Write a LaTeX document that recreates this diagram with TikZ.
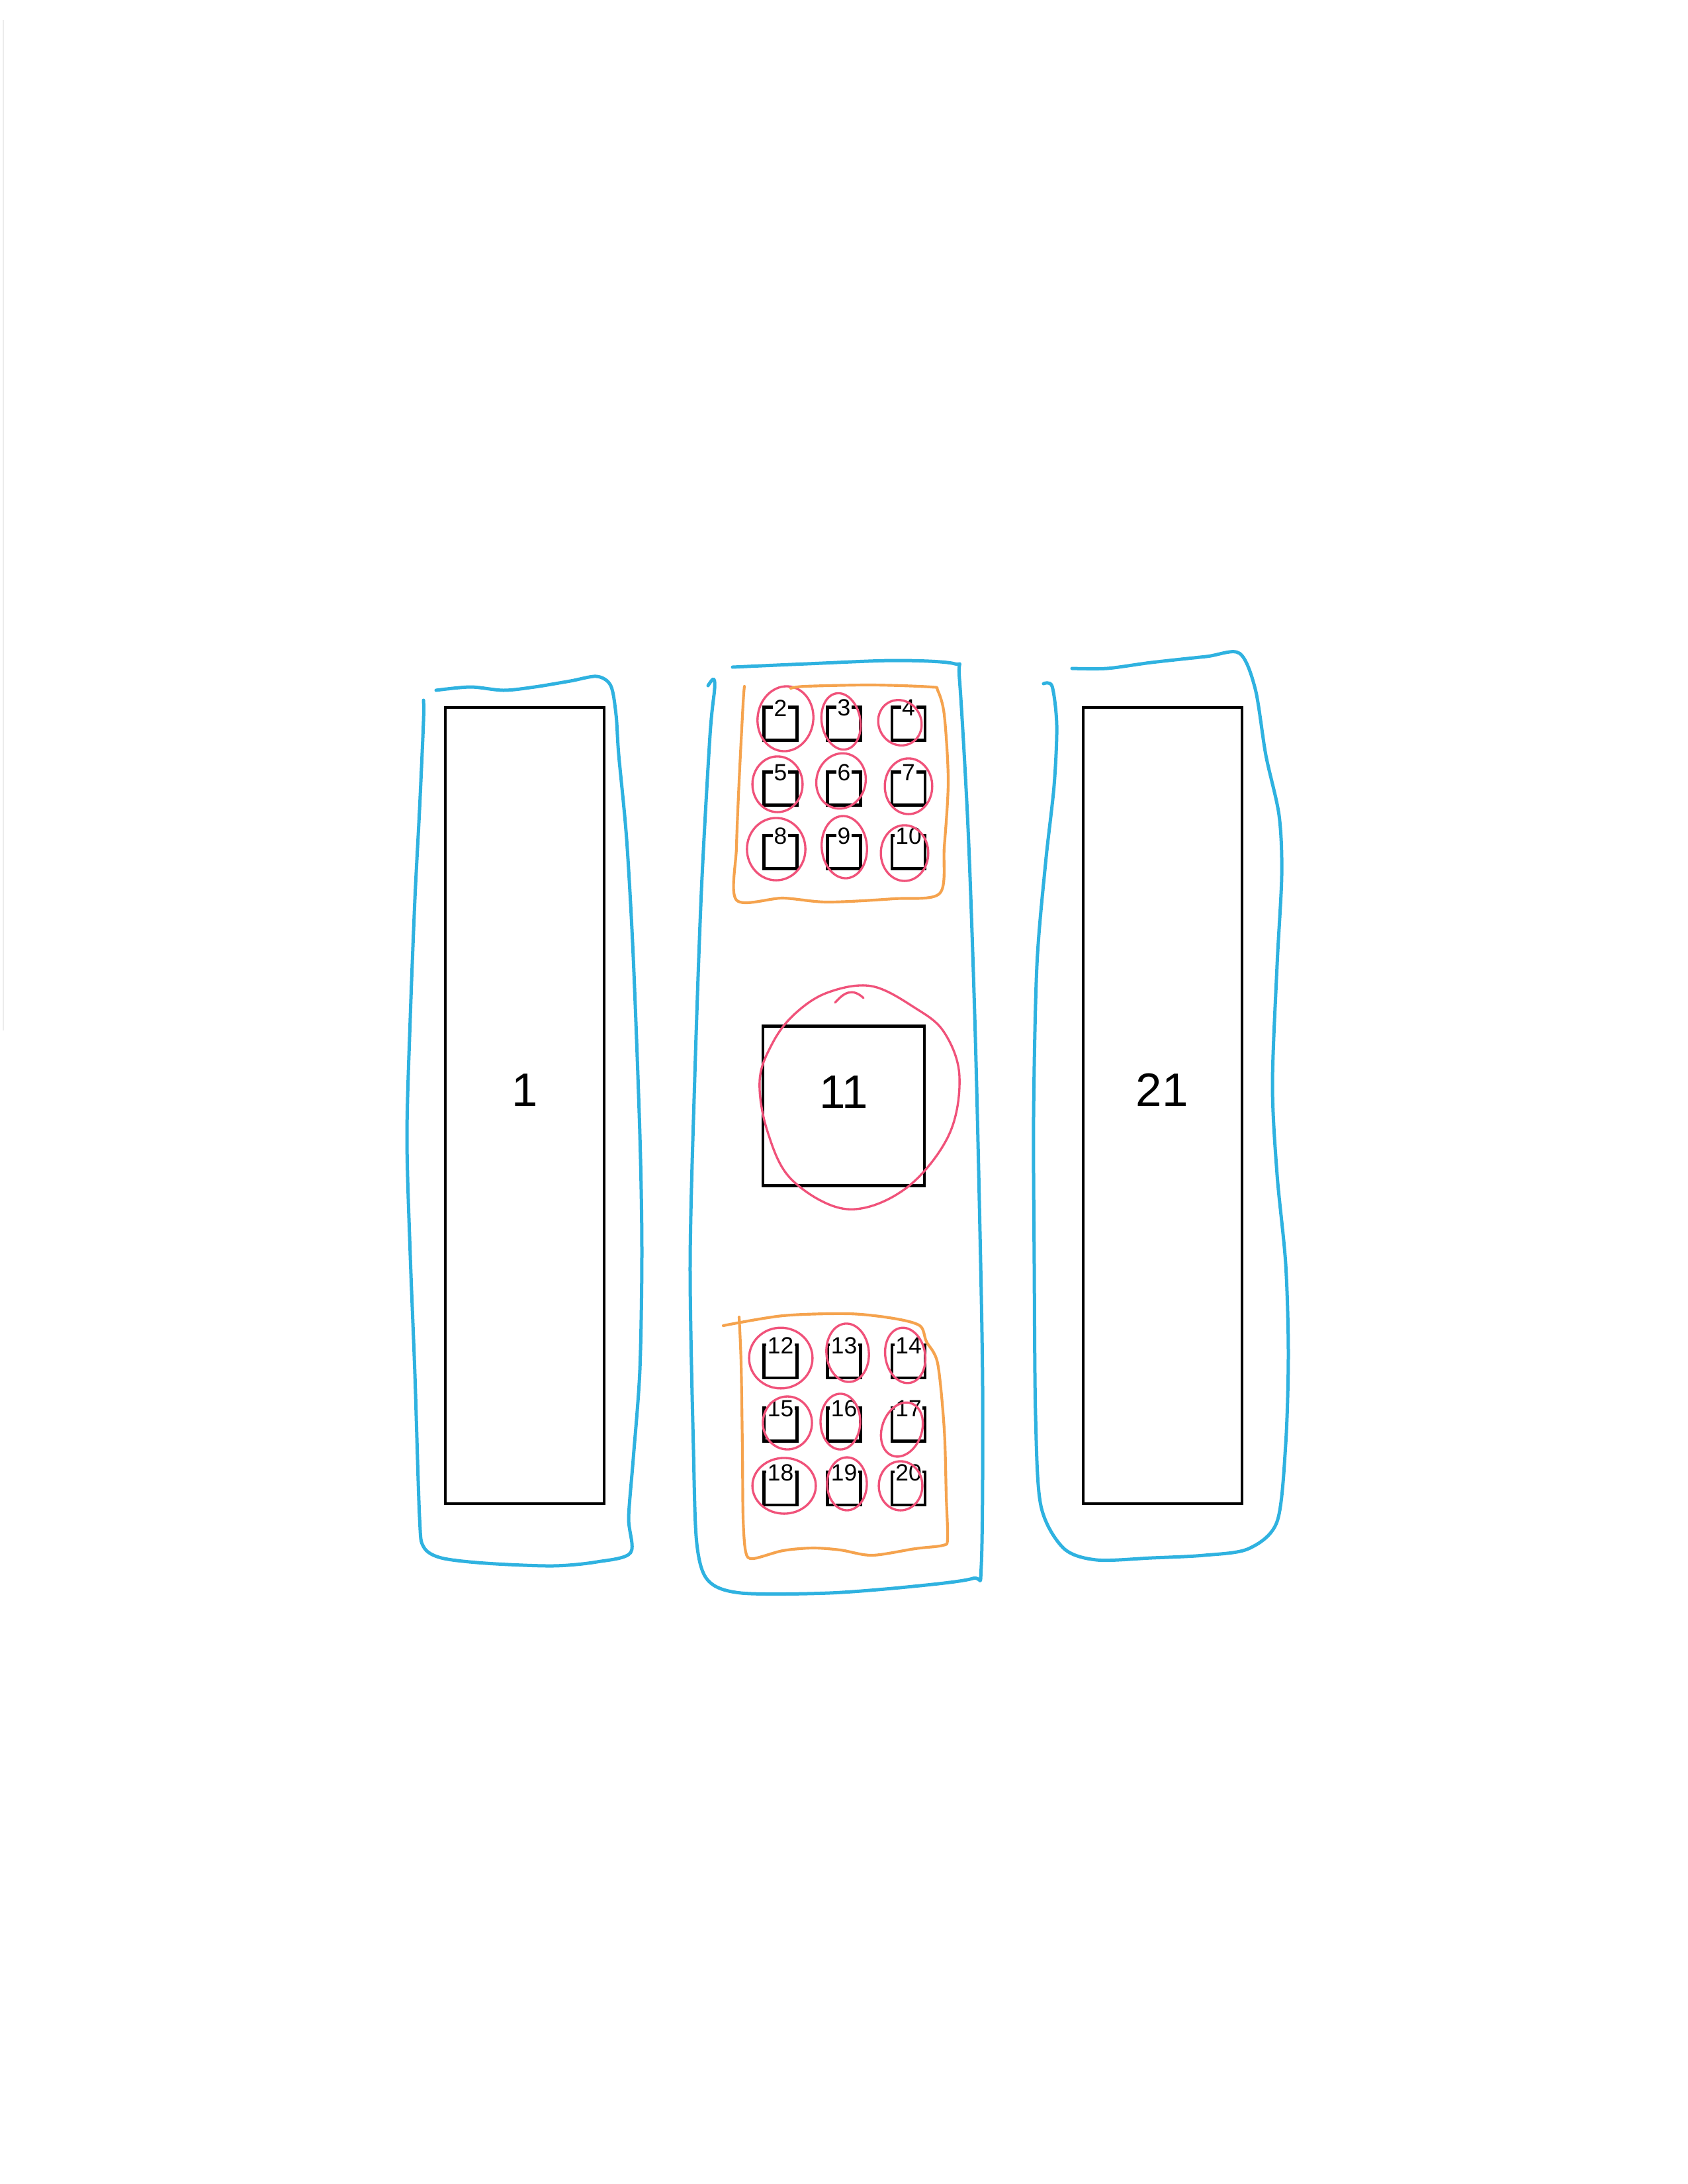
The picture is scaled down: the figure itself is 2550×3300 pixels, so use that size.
\documentclass[tikz,border=0pt]{standalone}
\usepackage{fontspec}
\setmainfont{Liberation Sans}
\definecolor{bluepen}{HTML}{2FB2E0}
\definecolor{orangepen}{HTML}{F5A34E}
\definecolor{redpen}{HTML}{F0527A}
\tikzset{
  bigbox/.style={draw=black, line width=1.1pt, inner sep=0pt},
  smallbox/.style={draw=black, line width=1pt, minimum width=12pt, minimum height=12pt, inner sep=0pt},
  smalllabel/.style={font=\fontsize{8.5}{10}\selectfont, inner sep=0.4pt, fill=white},
  biglabel/.style={font=\fontsize{17}{20}\selectfont, inner sep=1pt, fill=white},
  bluestroke/.style={draw=bluepen, line width=1.2pt, line cap=round, line join=round},
  orangestroke/.style={draw=orangepen, line width=1pt, line cap=round, line join=round},
  redstroke/.style={draw=redpen, line width=0.8pt, line cap=round}
}
\begin{document}
\begin{tikzpicture}[x=0.24pt, y=-0.24pt]
\fill[white] (0,0) rectangle (2550,3300);
\useasboundingbox (0,0) rectangle (2550,3300);
% faint scan edge
\draw[gray!15, line width=0.6pt] (5,30) -- (5,1557);

% big boxes
\node[bigbox, minimum width=57.6pt, minimum height=288.7pt] (b1) at (793,1670.5) {};
\node[bigbox, minimum width=57.6pt, minimum height=288.7pt] (b21) at (1757,1670.5) {};
\node[bigbox, minimum width=58.5pt, minimum height=57.8pt] (b11) at (1275,1671) {};
\node[biglabel] (l1) at (793,1647) {1};
\node[biglabel] (l21) at (1756,1647) {21};
\node[biglabel] (l11) at (1275,1650) {11};

% small boxes with labels
\foreach \n/\x/\y in {2/1179.5/1093.5, 3/1275.5/1093.5, 4/1373/1093.5,
                      5/1179.5/1191.5, 6/1275.5/1191.5, 7/1373/1191.5,
                      8/1179.5/1287.5, 9/1275.5/1287.5, 10/1373/1287.5,
                      12/1179.5/2057, 13/1275.5/2057, 14/1373/2057,
                      15/1179.5/2152.5, 16/1275.5/2152.5, 17/1373/2152.5,
                      18/1179.5/2249, 19/1275.5/2249, 20/1373/2249}{
  \node[smallbox] (b\n) at (\x,\y) {};
  \node[smalllabel] (l\n) at ([yshift=-0.8pt]b\n.north) {\n};
}

% red circles round the small boxes
\foreach \cx/\cy/\rx/\ry/\r in {1187/1086/10.1/11.8/-8, 1271/1090/7.0/10.3/10, 1360/1092/7.7/8.4/30,
                                1175/1185/9.1/10.1/0, 1271/1180/8.9/10.1/-15, 1373/1188/8.6/10.1/0,
                                1173/1283/10.6/11.3/0, 1276/1280/8.2/11.3/5, 1367/1289/8.6/10.1/0,
                                1180/2052/11.5/11.0/0, 1281/2044/7.7/10.6/5, 1368/2048/7.2/10.1/10,
                                1190/2150/8.9/9.6/0, 1270/2148/7.2/10.1/0, 1363/2160/7.2/10.1/-20,
                                1185/2245/11.5/10.1/0, 1280/2242/7.2/9.6/0, 1361/2245/7.9/8.9/0}{
  \draw[redstroke, rotate around={\r:(\cx,\cy)}] (\cx,\cy) ellipse [x radius=\rx pt, y radius=\ry pt];
}

% big red circle round 11
\draw[redstroke] plot[smooth cycle, tension=0.6] coordinates {
  (1317,1490) (1383,1523) (1427,1560) (1450,1627) (1433,1717) (1367,1797)
  (1280,1827) (1197,1783) (1160,1710) (1148,1633) (1167,1577) (1200,1533) (1250,1500)};
\draw[redstroke] (1262,1515) .. controls (1275,1500) and (1288,1492) .. (1305,1508);

% orange outlines
\draw[orangestroke] plot[smooth, tension=0.5] coordinates {
  (1125,1037) (1123,1063) (1117,1180) (1113,1280) (1113,1360) (1183,1357) (1250,1363)
  (1350,1358) (1420,1350) (1427,1280) (1433,1180) (1427,1080) (1417,1043) (1407,1038)
  (1317,1035) (1217,1037) (1195,1040)};
\draw[orangestroke] plot[smooth, tension=0.5] coordinates {
  (1117,1990) (1120,2060) (1122,2193) (1123,2293) (1127,2345) (1138,2355) (1183,2343)
  (1228,2339) (1270,2342) (1318,2350) (1383,2340) (1425,2335) (1432,2325) (1430,2260)
  (1427,2160) (1417,2060) (1400,2027) (1390,2003) (1350,1992) (1283,1985) (1183,1988) (1093,2003)};

% blue outlines
\draw[bluestroke] plot[smooth, tension=0.5] coordinates {
  (659,1043) (711,1038) (761,1043) (808,1038) (862,1029) (902,1022) (923,1036) (931,1080)
  (935,1140) (947,1268) (957,1446) (967,1714) (970,1892) (967,2070) (957,2204) (950,2293)
  (953,2346) (902,2360) (835,2366) (734,2362) (667,2354) (640,2337) (634,2292) (627,2076)
  (620,1897) (615,1718) (620,1538) (627,1359) (634,1224) (640,1090) (640,1058)};
\draw[bluestroke] plot[smooth, tension=0.5] coordinates {
  (1070,1036) (1078,1026) (1080,1040) (1073,1111) (1060,1346) (1050,1627) (1043,1909)
  (1048,2191) (1053,2332) (1070,2388) (1120,2407) (1253,2407) (1380,2397) (1470,2385)
  (1483,2365) (1485,2097) (1480,1815) (1473,1533) (1463,1252) (1450,1026) (1443,1003) (1353,998)
  (1220,1003) (1107,1008)};
\draw[bluestroke] plot[smooth, tension=0.5] coordinates {
  (1577,1033) (1590,1037) (1597,1096) (1593,1187) (1580,1305) (1567,1459) (1562,1686)
  (1563,1912) (1565,2139) (1573,2275) (1607,2339) (1657,2357) (1740,2354) (1820,2350)
  (1887,2340) (1930,2299) (1943,2182) (1947,2046) (1943,1910) (1930,1775) (1923,1639)
  (1930,1458) (1937,1322) (1933,1232) (1913,1141) (1897,1041) (1873,987) (1823,992)
  (1740,1001) (1673,1010) (1620,1010)};
\end{tikzpicture}
\end{document}
